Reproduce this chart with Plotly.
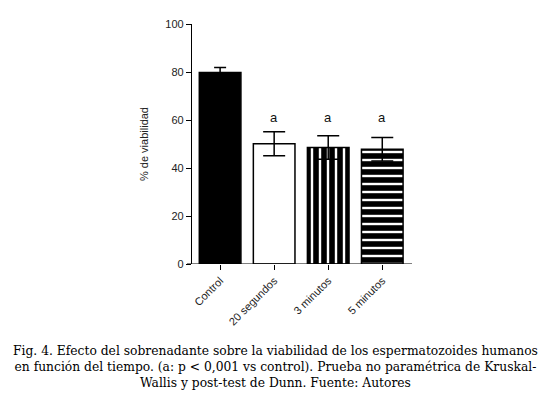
import plotly.graph_objects as go

categories = ["Control", "20 segundos", "3 minutos", "5 minutos"]
viabilidad = [79.8, 50.1, 48.5, 47.8]
error_sd = [2.1, 5.0, 4.9, 4.9]
sig_labels = ["", "a", "a", "a"]
sig_y = 61
y_ticks = [0, 20, 40, 60, 80, 100]

caption = ("Fig. 4. Efecto del sobrenadante sobre la viabilidad de los espermatozoides humanos<br>"
           "en función del tiempo. (a: p &lt; 0,001 vs control). Prueba no paramétrica de Kruskal-<br>"
           "Wallis y post-test de Dunn. Fuente: Autores")

bar_colors = ["black", "white", "white", "white"]
bar_patterns = ["", "", "|", "-"]
cap_w = [6, 11, 11, 11]

# page body has an 8px margin: figure drawn at (8, 8) in the window
OFF = 8
W, H = 550 - OFF, 394 - OFF
L, R, T, B = 192 - OFF, 550 - 412, 24 - OFF, 394 - 264

fig = go.Figure()
for i, cat in enumerate(categories):
    marker = dict(color=bar_colors[i], line=dict(color="black", width=1.5))
    if bar_patterns[i]:
        marker["pattern"] = dict(shape=bar_patterns[i], fgcolor="black", bgcolor="white",
                                 fgopacity=1, size=8, solidity=0.7)
    fig.add_trace(go.Bar(
        x=[cat], y=[viabilidad[i]], width=0.77, marker=marker,
        error_y=dict(type="data", array=[error_sd[i]], visible=True,
                     color="black", thickness=1.5, width=cap_w[i]),
        showlegend=False,
    ))

for i, cat in enumerate(categories):
    if sig_labels[i]:
        fig.add_annotation(x=cat, y=sig_y, text=sig_labels[i], showarrow=False,
                           font=dict(family="Liberation Sans, Arial", size=13, color="#111"),
                           xref="x", yref="y")

plot_w = W - L - R
plot_h = H - T - B
fig.add_annotation(xref="paper", yref="paper",
                   x=(275 - 192) / plot_w, y=-(342 - 264) / plot_h,
                   text=caption, showarrow=False, align="center",
                   xanchor="center", yanchor="top",
                   font=dict(family="DejaVu Serif", size=12.3, color="black"))

# x axis line (extends slightly left of y axis)
fig.add_shape(type="line", xref="paper", yref="y", x0=-5 / plot_w, x1=1, y0=0, y1=0,
              line=dict(color="black", width=1.2))

fig.update_layout(
    width=W, height=H,
    margin=dict(l=L, r=R, t=T, b=B, autoexpand=False),
    paper_bgcolor="white", plot_bgcolor="white",
    barmode="overlay",
    font=dict(family="Liberation Sans, Arial", size=11, color="#222"),
)
fig.update_xaxes(
    type="category", categoryorder="array", categoryarray=categories,
    range=[-0.52, 3.55], automargin=False,
    showline=False, ticks="outside", ticklen=5, tickwidth=1.2, tickcolor="black",
    tickangle=-45, tickfont=dict(size=11, color="#222"), showgrid=False, zeroline=False,
)
fig.update_yaxes(
    range=[0, 100], tickvals=y_ticks, showline=True, linecolor="black", linewidth=1.2,
    automargin=False,
    ticks="outside", ticklen=5, tickwidth=1.2, tickcolor="black",
    showgrid=False, zeroline=False,
    title=dict(text="% de viabilidad", font=dict(size=11, color="#222"), standoff=14),
    tickfont=dict(size=11, color="#222"),
)

fig.write_html("out.html")
